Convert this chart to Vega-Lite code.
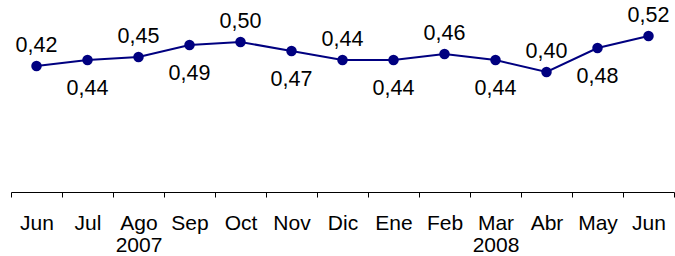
{
  "$schema": "https://vega.github.io/schema/vega-lite/v6.json",
  "width": 663,
  "height": 180,
  "autosize": {"type": "none"},
  "padding": {"left": 11, "top": 12, "right": 1, "bottom": 64},
  "background": "white",
  "config": {
    "view": {"stroke": null},
    "font": "Liberation Sans",
    "locale": {"number": {"decimal": ",", "thousands": ".", "grouping": [3], "currency": ["", " €"]}}
  },
  "data": {
    "values": [
      {"periodo": "Jun 2007", "valor": 0.42, "pos": "above"},
      {"periodo": "Jul 2007", "valor": 0.44, "pos": "below"},
      {"periodo": "Ago 2007", "valor": 0.45, "pos": "above"},
      {"periodo": "Sep 2007", "valor": 0.49, "pos": "below"},
      {"periodo": "Oct 2007", "valor": 0.50, "pos": "above"},
      {"periodo": "Nov 2007", "valor": 0.47, "pos": "below"},
      {"periodo": "Dic 2007", "valor": 0.44, "pos": "above"},
      {"periodo": "Ene 2008", "valor": 0.44, "pos": "below"},
      {"periodo": "Feb 2008", "valor": 0.46, "pos": "above"},
      {"periodo": "Mar 2008", "valor": 0.44, "pos": "below"},
      {"periodo": "Abr 2008", "valor": 0.40, "pos": "above"},
      {"periodo": "May 2008", "valor": 0.48, "pos": "below"},
      {"periodo": "Jun 2008", "valor": 0.52, "pos": "above"}
    ]
  },
  "encoding": {
    "x": {
      "field": "periodo",
      "type": "ordinal",
      "sort": null,
      "scale": {"type": "band", "paddingInner": 0, "paddingOuter": 0},
      "axis": {
        "title": null,
        "labelAngle": 0,
        "labelFontSize": 21,
        "labelColor": "black",
        "labelPadding": 15,
        "labelLineHeight": 22.5,
        "labelBaseline": "top",
        "tickBand": "extent",
        "tickSize": 5,
        "tickColor": "black",
        "domainColor": "black",
        "labelExpr": "!isValid(datum.value) ? '' : datum.value == 'Ago 2007' ? ['Ago','2007'] : datum.value == 'Mar 2008' ? ['Mar','2008'] : split(datum.value,' ')[0]"
      }
    },
    "y": {
      "field": "valor",
      "type": "quantitative",
      "scale": {"domain": [0, 0.6]},
      "axis": null
    }
  },
  "layer": [
    {"mark": {"type": "line", "color": "#000080", "strokeWidth": 2}},
    {"mark": {"type": "point", "filled": true, "color": "#000080", "size": 110, "opacity": 1}},
    {
      "transform": [{"filter": "datum.pos == 'above'"}],
      "mark": {"type": "text", "fontSize": 21.5, "color": "black", "baseline": "alphabetic", "dy": -14},
      "encoding": {"text": {"field": "valor", "type": "quantitative", "format": ".2f"}}
    },
    {
      "transform": [{"filter": "datum.pos == 'below'"}],
      "mark": {"type": "text", "fontSize": 21.5, "color": "black", "baseline": "top", "dy": 18},
      "encoding": {"text": {"field": "valor", "type": "quantitative", "format": ".2f"}}
    }
  ]
}
